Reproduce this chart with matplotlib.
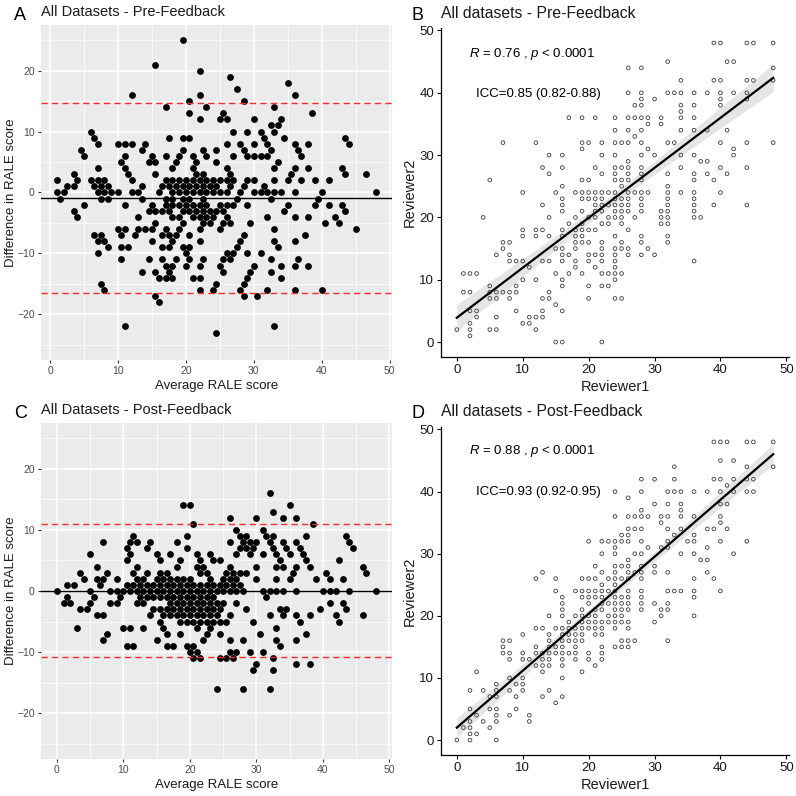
import matplotlib
matplotlib.use("Agg")
import matplotlib.pyplot as plt
import numpy as np

plt.rcParams['font.family'] = ['Liberation Sans', 'DejaVu Sans']
plt.rcParams['mathtext.fontset'] = 'custom'
plt.rcParams['mathtext.rm'] = 'Liberation Sans'
plt.rcParams['mathtext.it'] = 'Liberation Sans:italic'

# --- data ------------------------------------------------------------------
# Bland-Altman panels: (difference, [average scores at that difference])
pre_ba_rows = [
    (25, [19.5]), (21, [15.5]), (20, [22]), (19, [26.5]), (18, [35]), (17, [27.5]),
    (16, [12, 22, 36]), (15, [20.5, 28.5]), (14, [17, 23, 33]),
    (13, [20.5, 25.5, 38.5]), (12, [22, 25, 26, 30, 34]), (11, [32.5, 33.5]),
    (10, [6, 27, 29, 31, 33]),
    (9, [6.5, 17.5, 19.5, 20.5, 31.5, 34.5, 43.5]),
    (8, [7, 10, 11, 12, 14, 26, 28, 30, 32, 36, 38, 44]),
    (7, [4.5, 13.5, 19.5, 22.5, 24.5, 28.5, 32.5, 36.5]),
    (6, [5, 11, 15, 17, 19, 21, 23, 27, 29, 30, 31, 32, 37]),
    (5, [10.5, 14.5, 15.5, 18.5, 21.5, 24.5, 33.5]),
    (4, [7, 11, 18, 21, 26, 33, 36, 38, 43]),
    (3, [3.5, 11.5, 15.5, 21.5, 22.5, 26.5, 35.5, 43.5, 46.5]),
    (2, [1, 4, 6, 7, 8, 12, 17, 18, 19, 20, 21, 22, 23, 24, 25, 26, 27, 29, 30, 33,
         35, 37, 39, 41]),
    (1, [2.5, 3.5, 6.5, 7.5, 8.5, 13.5, 16.5, 17.5, 18.5, 19.5, 20.5, 21.5, 22.5,
         23.5, 24.5, 26.5, 28.5, 31.5]),
    (0, [1, 2, 7, 8, 9, 10, 12, 13, 16, 18, 19, 20, 21, 22, 23, 24, 25, 26, 28, 30,
         31, 32, 33, 34, 36, 40, 48]),
    (-1, [1.5, 7.5, 8.5, 13.5, 17, 18, 19.5, 20.5, 22.5, 27.5, 32.5, 39.5]),
    (-2, [5, 11, 15, 17, 18, 19, 20, 21, 22, 23, 25, 26, 27, 29, 35, 39, 41, 43]),
    (-3, [3.5, 14.5, 15.5, 16.5, 17.5, 19.5, 20.5, 21.5, 22.5, 23.5, 24.5, 25.5,
          34.5, 43.5]),
    (-4, [4, 13, 18, 19, 21, 22, 23, 24, 26, 32, 36, 38, 42]),
    (-5, [15.5, 19.5, 22.5, 23.5, 25.5, 26.5, 29.5, 40.5, 42.5]),
    (-6, [10, 11, 13, 14, 15, 17, 19, 22, 25, 33, 45]),
    (-7, [6.5, 7.5, 10.5, 12.5, 16.5, 17.5, 18.5, 20.5, 28.5, 37.5]),
    (-8, [7, 8, 15, 18, 22, 28, 33, 36]),
    (-9, [8.5, 10.5, 11.5, 16.5, 17.5, 19.5, 20.5, 27.5, 33.5]),
    (-10, [7, 20, 26, 27, 29, 31]),
    (-11, [10.5, 14.5, 16.5, 18.5, 20.5, 22.5, 25.5, 26.5, 32.5, 36.5]),
    (-12, [17, 18, 20, 22, 25, 30, 34, 36, 38]),
    (-13, [13.5, 15.5, 17.5, 25.5, 29.5, 32.5]),
    (-14, [16, 17, 18, 21, 22, 29, 34]),
    (-15, [7.5, 24.5, 28.5]),
    (-16, [8, 22, 24, 28, 32, 36, 40]),
    (-17, [15.5, 28.5, 30.5]), (-18, [16]), (-22, [11, 33]), (-23, [24.5]),
]
pre_ba_lines = (-0.9, -16.5, 14.7)   # mean, lower LoA, upper LoA

post_ba_rows = [
    (16, [32]), (14, [19, 20, 35]), (13, [32.5]), (12, [26, 30, 34, 36]),
    (11, [20.5, 38.5]), (10, [27, 31]),
    (9, [11.5, 19.5, 27.5, 28.5, 31.5, 32.5, 37.5, 43.5]),
    (8, [7, 11, 12, 14, 18, 26, 28, 29, 30, 32, 34, 36, 44]),
    (7, [10.5, 13.5, 19.5, 27.5, 28.5, 29.5, 32.5, 34.5, 36.5, 44.5]),
    (6, [5, 11, 15, 17, 21, 23, 27, 29, 31, 33, 35, 37]),
    (5, [10.5, 15.5, 18.5, 21.5, 23.5, 24.5, 33.5, 37.5, 42.5]),
    (4, [6, 12, 18, 21, 22, 26, 30, 33, 34, 36, 38, 46]),
    (3, [3.5, 7.5, 11.5, 13.5, 15.5, 16.5, 21.5, 22.5, 25.5, 26.5, 27.5, 28.5, 35.5,
         40.5, 46.5]),
    (2, [4, 6, 7, 9, 12, 13, 15, 16, 17, 18, 19, 20, 23, 25, 26, 27, 30, 33, 35, 39, 41, 43]),
    (1, [1.5, 2.5, 6.5, 10.5, 11.5, 12.5, 13.5, 14.5, 15.5, 16.5, 17.5, 18.5, 19.5,
         20.5, 21.5, 22.5, 23.5, 24.5, 25.5, 26.5, 27.5]),
    (0, [0, 5, 8, 9, 10, 11, 12, 13, 14, 15, 16, 17, 18, 19, 20, 21, 22, 23, 24, 25,
         26, 27, 28, 31, 32, 33, 34, 36, 40, 41, 42, 44, 48]),
    (-1, [1.5, 5.5, 9.5, 12.5, 13.5, 14.5, 15.5, 16.5, 17.5, 18.5, 19.5, 20.5, 21.5,
          22.5, 23.5, 31.5]),
    (-2, [1, 2, 5, 8, 9, 12, 13, 17, 18, 19, 20, 21, 22, 23, 24, 25, 27, 41, 43]),
    (-3, [3.5, 4.5, 14.5, 15.5, 16.5, 17.5, 18.5, 19.5, 20.5, 21.5, 22.5, 23.5, 24.5,
          28.5, 33.5, 34.5, 39.5, 43.5]),
    (-4, [6, 7, 14, 16, 17, 18, 19, 20, 21, 22, 23, 24, 26, 32, 34, 36, 38, 42, 46]),
    (-5, [15.5, 18.5, 19.5, 20.5, 21.5, 22.5, 23.5, 24.5, 25.5, 29.5, 36.5, 42.5]),
    (-6, [3, 10, 11, 13, 16, 21, 23, 33]),
    (-7, [7.5, 16.5, 18.5, 22.5, 24.5, 30.5, 37.5]),
    (-8, [7, 15, 22, 26, 28, 33, 36]),
    (-9, [10.5, 11.5, 16.5, 17.5, 19.5, 20.5, 33.5]),
    (-10, [20, 21, 26, 27, 29, 31]),
    (-11, [20.5, 21.5, 24.5, 25.5, 26.5, 32.5]),
    (-12, [30, 36, 38]), (-13, [29.5, 32.5]), (-16, [24, 28, 32]),
]
post_ba_lines = (0.05, -10.8, 10.9)

# scatter panels: (Reviewer2, [Reviewer1 scores at that value])
pre_rows = [
    (48, [39, 40, 44, 45, 48]), (45, [32, 41, 42]), (44, [26, 28, 48]),
    (42, [34, 39, 40, 44, 45, 48]),
    (40, [26, 28, 32, 33, 34, 36, 38, 40, 42, 44]),
    (39, [28, 30, 40, 44]), (38, [27, 28, 34, 36, 40]), (37, [34]),
    (36, [17, 19, 21, 24, 26, 27, 28, 29, 31, 34, 36]), (35, [29, 31]),
    (34, [24, 26, 28, 34, 36, 38, 41]), (33, [27]),
    (32, [7, 12, 19, 20, 22, 24, 25, 26, 28, 32, 33, 40, 44, 48]),
    (31, [19, 29, 42]), (30, [14, 16, 22, 24, 28, 30, 34, 36, 42]),
    (29, [26, 37, 38]), (28, [13, 16, 21, 24, 25, 26, 28, 34, 40, 44]),
    (27, [14, 22, 24, 26, 28, 32, 36, 38, 41]),
    (26, [5, 19, 20, 24, 25, 26, 28, 36, 39]), (25, [16, 25, 32]),
    (24, [10, 15, 18, 19, 20, 21, 22, 23, 24, 26, 27, 28, 29, 32, 34, 36, 40]),
    (23, [16, 19, 20, 21, 22, 24, 25, 26, 28, 32, 36]),
    (22, [13, 16, 21, 22, 23, 24, 25, 26, 28, 32, 36, 39, 44]),
    (21, [16, 19, 21, 22, 24, 25, 26, 28, 31, 32, 36]),
    (20, [4, 14, 18, 20, 21, 23, 24, 25, 27, 31, 32, 36, 37]),
    (19, [17, 19, 22, 23, 25, 31, 32]),
    (18, [10, 12, 13, 16, 18, 19, 20, 21, 26]),
    (17, [10, 12, 14, 16, 18, 19, 24, 28, 32]),
    (16, [7, 8, 18, 19, 20, 22, 25, 28, 32]),
    (15, [7, 15, 16, 18, 22, 24, 25, 26, 29]),
    (14, [6, 8, 16, 17, 20, 21, 22, 24, 26, 28, 30]),
    (13, [8, 9, 10, 13, 14, 16, 18, 20, 22, 24, 36]),
    (12, [11, 18, 21, 24]), (11, [1, 2, 3, 15, 17, 19, 22, 23, 24, 25]),
    (10, [10, 12, 16, 24]), (9, [5, 9, 16, 20, 22, 23]),
    (8, [1, 2, 5, 6, 7, 8, 9, 14]), (7, [5, 6, 8, 13, 14, 20, 24, 25]),
    (6, [15]), (5, [2, 3, 9, 13, 16]), (4, [3, 6, 11, 12, 13]), (3, [2, 10, 11]),
    (2, [0, 2, 5, 6, 12]), (1, [2]), (0, [15, 16, 22]),
]
pre_fit = (3.9, 0.802)   # intercept, slope of the drawn regression line
pre_r_text = "$\\mathit{R}$ = 0.76 , $\\mathit{p}$ < $\\mathit{0.0001}$"
pre_icc_text = "ICC=0.85 (0.82-0.88)"

post_rows = [
    (48, [39, 40, 41, 44, 45, 48]), (45, [40, 42]), (44, [33, 44, 48]),
    (42, [28, 30, 33, 39, 40, 42, 44, 45]), (41, [41]),
    (40, [24, 28, 32, 33, 34, 36, 38, 40, 42, 44, 45]), (39, [26]),
    (38, [30, 32, 34, 40, 41]), (37, [28, 34]),
    (36, [24, 26, 27, 28, 29, 31, 32, 34, 36, 40]), (35, [31, 40]),
    (34, [26, 27, 28, 32, 34, 38, 39, 41]), (33, [25, 26, 33, 36]),
    (32, [20, 22, 23, 24, 25, 26, 28, 32, 35, 36, 40, 44]),
    (31, [24, 29, 31, 32, 38]), (30, [22, 24, 27, 28, 34, 36, 42]),
    (29, [26, 37, 38]), (28, [21, 24, 25, 26, 28, 30]),
    (27, [13, 22, 24, 26, 27, 28, 30, 32, 38]),
    (26, [12, 15, 19, 20, 21, 23, 24, 25, 26, 28, 36, 39]), (25, [22, 24]),
    (24, [15, 18, 19, 20, 21, 22, 23, 24, 26, 28, 32, 33, 34, 36, 40]),
    (23, [16, 19, 20, 21, 22, 24, 25, 26, 28, 36]),
    (22, [16, 20, 22, 23, 24, 25, 26, 28, 30, 32]),
    (21, [16, 19, 21, 22, 24, 25, 26, 28, 31, 32]),
    (20, [14, 16, 18, 19, 20, 21, 23, 24, 25, 31, 36]),
    (19, [17, 19, 20, 21, 22, 23, 24, 25, 26, 30]),
    (18, [12, 13, 15, 16, 17, 18, 19, 20, 21, 22, 24, 26]),
    (17, [10, 14, 16, 17, 18, 19, 21, 22]),
    (16, [7, 8, 14, 16, 17, 18, 19, 25, 26, 27, 32]),
    (15, [7, 12, 14, 15, 16, 18, 22, 24, 25, 26]),
    (14, [7, 8, 10, 12, 13, 14, 15, 16, 17, 18, 20, 22]),
    (13, [8, 10, 11, 13, 14, 16, 18, 20, 22]),
    (12, [12, 13, 14, 16, 21]), (11, [3, 13, 19]), (10, [8, 10, 16]),
    (9, [6, 9, 10]), (8, [2, 4, 6, 8, 10, 14]), (7, [5, 6, 9, 13, 16]),
    (6, [15]), (5, [2, 5, 6, 9]), (4, [3, 6, 8, 11]), (3, [2, 4, 6, 11]),
    (2, [1, 2, 5]), (1, [2, 3]), (0, [0, 2, 6]),
]
post_fit = (2.0, 0.917)
post_r_text = "$\\mathit{R}$ = 0.88 , $\\mathit{p}$ < $\\mathit{0.0001}$"
post_icc_text = "ICC=0.93 (0.92-0.95)"


def expand(rows):
    xs, ys = [], []
    for y, row in rows:
        xs += list(row)
        ys += [y] * len(row)
    return np.array(xs, float), np.array(ys, float)


W = H = 796
fig = plt.figure(figsize=(7.96, 7.96), dpi=100)


def px_rect(l, t, r, b):
    return [l / W, 1 - b / H, (r - l) / W, (b - t) / H]


def fig_text(x, y, s, **kw):
    fig.text(x / W, 1 - y / H, s, **kw)


def ba_panel(rect, rows, lines, xlim, letter, title, ty):
    ax = fig.add_axes(rect)
    ax.set_facecolor('#EBEBEB')
    avg, diff = expand(rows)
    ax.scatter(avg, diff, s=24, c='black', linewidths=0, zorder=3)
    mean, lo, hi = lines
    ax.axhline(mean, color='black', lw=1.0, zorder=4)
    for v in (lo, hi):
        ax.axhline(v, color='#FF2A2A', lw=1.0, ls=(0, (4.5, 3)), zorder=4)
    ax.set_xlim(xlim)
    ax.set_ylim(-27.5, 27.5)
    ax.set_xticks(range(0, 51, 10))
    ax.set_xticks(range(5, 50, 10), minor=True)
    ax.set_yticks([-20, -10, 0, 10, 20])
    ax.set_yticks([-25, -15, -5, 5, 15, 25], minor=True)
    ax.grid(which='major', color='white', lw=1.1)
    ax.grid(which='minor', color='white', lw=0.55)
    ax.set_axisbelow(True)
    for s in ax.spines.values():
        s.set_visible(False)
    ax.tick_params(which='major', length=2.5, width=0.8, color='#333333',
                   labelcolor='#4D4D4D', labelsize=7.5, pad=2)
    ax.tick_params(which='minor', length=0)
    ax.set_xlabel('Average RALE score', fontsize=9.5, color='#1a1a1a', labelpad=3)
    ax.set_ylabel('Difference in RALE score', fontsize=9.5, color='#1a1a1a', labelpad=0)
    fig_text(14, ty + 4, letter, fontsize=13, va='center', ha='left')
    fig_text(41, ty, title, fontsize=10.5, va='center', ha='left', color='#1a1a1a')
    return ax


def sc_panel(rect, rows, fit, r_text, icc_text, r_y, icc_y, letter, title, ty):
    ax = fig.add_axes(rect)
    r1, r2 = expand(rows)
    b0, b1 = fit
    xs = np.linspace(r1.min(), r1.max(), 100)
    yhat = b0 + b1 * xs
    # 95% confidence band around the drawn line, from the points' scatter
    res = r2 - (b0 + b1 * r1)
    n = len(r1)
    s = np.sqrt(np.sum(res ** 2) / (n - 2))
    se = s * np.sqrt(1 / n + (xs - r1.mean()) ** 2 / np.sum((r1 - r1.mean()) ** 2))
    ax.fill_between(xs, yhat - 1.97 * se, yhat + 1.97 * se, color='#9a9a9a',
                    alpha=0.25, lw=0, zorder=2)
    ax.scatter(r1, r2, s=7, facecolors='none', edgecolors='#3c3c3c',
               linewidths=0.6, zorder=3)
    ax.plot(xs, yhat, color='black', lw=1.6, zorder=4)
    ax.set_xlim(-2.4, 50.4)
    ax.set_ylim(-2.4, 50.4)
    ax.set_xticks(range(0, 51, 10))
    ax.set_yticks(range(0, 51, 10))
    for k in ('top', 'right'):
        ax.spines[k].set_visible(False)
    for k in ('left', 'bottom'):
        ax.spines[k].set_linewidth(0.9)
    ax.tick_params(length=3, width=0.8, labelsize=9.5, labelcolor='#1a1a1a', pad=2)
    ax.set_xlabel('Reviewer1', fontsize=10.5, color='#1a1a1a', labelpad=3)
    ax.set_ylabel('Reviewer2', fontsize=10.5, color='#1a1a1a', labelpad=1.5)
    ax.text(1.9, r_y, r_text, fontsize=9.5, va='center', ha='left')
    ax.text(2.9, icc_y, icc_text, fontsize=9.5, va='center', ha='left')
    fig_text(411, ty + 3, letter, fontsize=13, va='center', ha='left')
    fig_text(441, ty, title, fontsize=11.3, va='center', ha='left', color='#1a1a1a')
    return ax


ba_panel(px_rect(41, 25, 392, 360), pre_ba_rows, pre_ba_lines, (-1.35, 50.35),
         'A', 'All Datasets - Pre-Feedback', 12)
ba_panel(px_rect(41, 423, 392, 759), post_ba_rows, post_ba_lines, (-2.4, 50.4),
         'C', 'All Datasets - Post-Feedback', 410)
sc_panel(px_rect(441, 28, 789, 357), pre_rows, pre_fit, pre_r_text, pre_icc_text,
         46.3, 39.8, 'B', 'All datasets - Pre-Feedback', 13)
sc_panel(px_rect(441, 427, 789, 755), post_rows, post_fit, post_r_text, post_icc_text,
         46.5, 40.0, 'D', 'All datasets - Post-Feedback', 411)

fig.savefig('out.png', dpi=100)
